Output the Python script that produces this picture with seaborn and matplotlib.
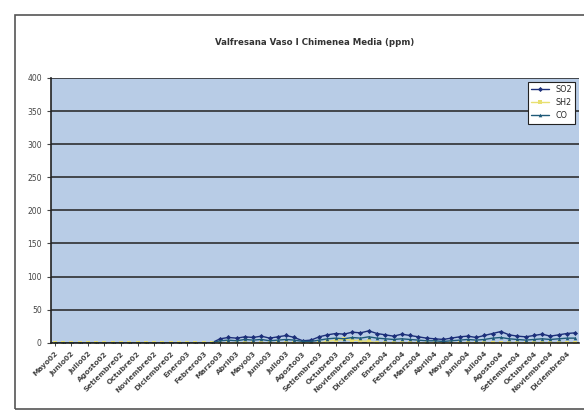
import numpy as np
import pandas as pd
import matplotlib
matplotlib.use('Agg')
import matplotlib.pyplot as plt
import seaborn as sns
from matplotlib.patches import Rectangle

# ---------------------------------------------------------------------------
# Data (two readings per month)
# ---------------------------------------------------------------------------
meses = ['Mayo02', 'Junio02', 'Julio02', 'Agosto02', 'Setiembre02', 'Octubre02',
         'Noviembre02', 'Diciembre02', 'Enero03', 'Febrero03', 'Marzo03', 'Abril03',
         'Mayo03', 'Junio03', 'Julio03', 'Agosto03', 'Setiembre03', 'Octubre03',
         'Noviembre03', 'Diciembre03', 'Enero04', 'Febrero04', 'Marzo04', 'Abril04',
         'Mayo04', 'Junio04', 'Julio04', 'Agosto04', 'Setiembre04', 'Octubre04',
         'Noviembre04', 'Diciembre04']

so2 = [0, 0, 0, 0, 0, 0, 0, 0, 0, 0, 0, 0, 0, 0, 0, 0, 0, 0, 0, 0,
       6, 8, 7, 9, 8, 10, 7, 9, 11, 8, 3, 4, 9, 12, 14, 13, 16, 15, 18, 14,
       12, 10, 13, 11, 9, 7, 6, 5, 7, 9, 10, 8, 11, 14, 17, 12, 10, 9, 11, 13,
       10, 12, 14, 15]
sh2 = [0, 0, 0, 0, 0, 0, 0, 0, 0, 0, 0, 0, 0, 0, 0, 0, 0, 0, 0, 0,
       0, 0, 0, 0, 0, 0, 0, 0, 0, 0, 0, 0, 0, 2, 4, 5, 4, 3, 2, 0,
       0, 0, 0, 0, 0, 0, 0, 0, 0, 0, 0, 0, 0, 0, 0, 0, 0, 0, 0, 0,
       0, 0, 0, 0]
co = [0, 0, 0, 0, 0, 0, 0, 0, 0, 0, 0, 0, 0, 0, 0, 0, 0, 0, 0, 0,
      3, 4, 3, 5, 4, 5, 3, 4, 5, 4, 2, 2, 4, 6, 7, 6, 8, 7, 9, 7,
      6, 5, 6, 5, 4, 3, 3, 2, 3, 4, 5, 4, 5, 7, 8, 6, 5, 4, 5, 6,
      5, 6, 7, 7]

n = len(so2)
df = pd.DataFrame({
    'idx': np.tile(np.arange(n), 3),
    'ppm': so2 + sh2 + co,
    'serie': ['SO2'] * n + ['SH2'] * n + ['CO'] * n,
})

# ---------------------------------------------------------------------------
# Figure
# ---------------------------------------------------------------------------
sns.set_theme(style='white')
plt.rcParams['font.family'] = ['DejaVu Sans']

fig = plt.figure(figsize=(5.84, 4.17), dpi=100)
fig.patch.set_facecolor('white')
ax = fig.add_axes([0.087, 0.178, 0.905, 0.635])
ax.set_facecolor('#b8cce6')

palette = {'SO2': '#1c2f7a', 'SH2': '#e8e070', 'CO': '#1f5a78'}
sns.lineplot(data=df, x='idx', y='ppm', hue='serie', style='serie',
             palette=palette, markers={'SO2': 'D', 'SH2': 's', 'CO': '^'},
             dashes=False, markersize=2.6, linewidth=1.0, markeredgewidth=0,
             ax=ax)

ax.set_ylim(0, 400)
ax.set_yticks(np.arange(0, 401, 50))
ax.set_xlim(-0.5, n - 0.5)
ax.set_xticks(np.arange(0, n, 2))
ax.set_xticklabels(meses, rotation=45, ha='right', rotation_mode='anchor',
                   fontsize=5.3, color='#444444', fontweight='bold')
ax.tick_params(axis='y', labelsize=5.5, colors='#444444', length=3, width=0.8,
               direction='out', left=True)
ax.tick_params(axis='x', length=2, width=0.6, bottom=True)
ax.yaxis.grid(True, color='#222222', linewidth=1.1)
ax.set_axisbelow(True)
ax.set_xlabel('')
ax.set_ylabel('')
for side in ['left', 'bottom']:
    ax.spines[side].set_color('#222222')
    ax.spines[side].set_linewidth(1.2)
for side in ['top', 'right']:
    ax.spines[side].set_visible(False)

ax.set_title('Valfresana Vaso I Chimenea Media (ppm)', fontsize=6.2,
             fontweight='bold', color='#333333', pad=24)

leg = ax.legend(loc='upper right', fontsize=5.8, frameon=True, fancybox=False,
                edgecolor='#222222', framealpha=1, borderpad=0.4,
                handlelength=2.2, labelspacing=0.5)
leg.get_frame().set_linewidth(0.8)

# chart area border (Excel style)
fig.patches.append(Rectangle((0.026, 0.02), 1.2, 0.945, transform=fig.transFigure,
                             fill=False, edgecolor='#555555', linewidth=1.2))

fig.savefig('out.png', dpi=100)
